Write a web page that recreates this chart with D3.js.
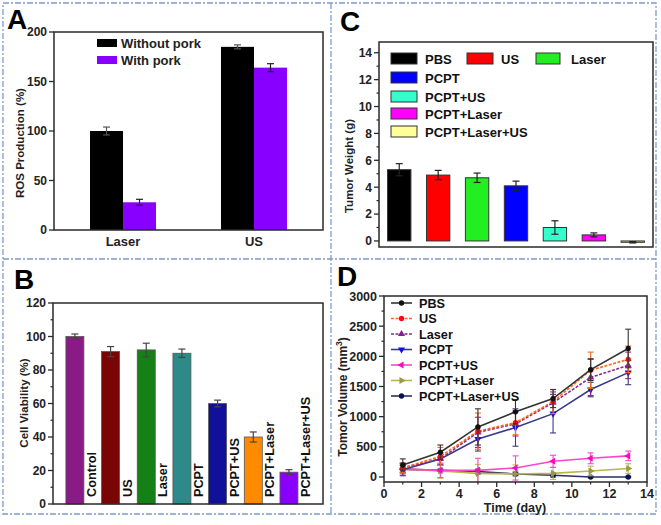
<!DOCTYPE html>
<html><head><meta charset="utf-8">
<script src="https://cdn.jsdelivr.net/npm/d3@7"></script>
<style>
body{margin:0;background:#fff;}
svg{display:block;font-family:"Liberation Sans",Arial,sans-serif;font-weight:bold;}
</style></head>
<body><svg id="c" width="661" height="525"></svg>
<script>
// ---------- Panel A data ----------
const aCategories = ["Laser", "US"];
const aSeries = ["Without pork", "With pork"];
const aWithout = [100, 185];
const aWithoutErr = [4, 2];
const aWith = [28, 164];
const aWithErr = [3, 4];
const aTicks = [0, 50, 100, 150, 200];

// ---------- Panel B data ----------
const bCategories = ["Control", "US", "Laser", "PCPT", "PCPT+US", "PCPT+Laser", "PCPT+Laser+US"];
const bValues = [100, 91, 92, 90, 60, 40, 19];
const bErrors = [1.5, 3, 4, 2.5, 2, 3, 1.5];
const bColors = ["#8a1a86", "#7a0505", "#158015", "#2e8a88", "#10109a", "#ff8a00", "#8a00ff"];
const bTicks = [0, 20, 40, 60, 80, 100, 120];

// ---------- Panel C data ----------
const cCategories = ["PBS", "US", "Laser", "PCPT", "PCPT+US", "PCPT+Laser", "PCPT+Laser+US"];
const cValues = [5.3, 4.9, 4.7, 4.1, 1.0, 0.45, -0.1];
const cErrors = [0.45, 0.35, 0.35, 0.35, 0.5, 0.15, 0.05];
const cColors = ["#000000", "#ff0000", "#22ee22", "#0000ff", "#33ffcc", "#ff00ff", "#ffff99"];
const cTicks = [0, 2, 4, 6, 8, 10, 12, 14];

// ---------- Panel D data ----------
const dDays = [1, 3, 5, 7, 9, 11, 13];
const dSeries = ["PBS", "US", "Laser", "PCPT", "PCPT+US", "PCPT+Laser", "PCPT+Laser+US"];
const dPBS = [200, 410, 830, 1080, 1300, 1780, 2130];
const dPBSErr = [100, 120, 300, 200, 150, 180, 320];
const dUS = [150, 340, 760, 900, 1250, 1770, 1950];
const dUSErr = [80, 150, 300, 200, 200, 300, 220];
const dLaser = [150, 300, 740, 880, 1230, 1650, 1850];
const dLaserErr = [80, 100, 250, 200, 180, 300, 220];
const dPCPT = [120, 300, 630, 820, 1050, 1450, 1730];
const dPCPTErr = [100, 100, 200, 310, 320, 120, 200];
const dPCPTUS = [130, 110, 110, 150, 260, 310, 350];
const dPCPTUSErr = [100, 120, 200, 200, 100, 90, 80];
const dPCPTLaser = [130, 100, 60, 50, 60, 100, 140];
const dPCPTLaserErr = [80, 120, 150, 150, 100, 80, 80];
const dPCPTLaserUS = [130, 110, 90, 50, 30, 0, 0];
const dPCPTLaserUSErr = [60, 20, 40, 30, 30, 10, 10];
const dXTicks = [0, 2, 4, 6, 8, 10, 12, 14];
const dYTicks = [0, 500, 1000, 1500, 2000, 2500, 3000];

const svg = d3.select("#c");
const AX = "#2a2a2a";

// ---------- panel frames ----------
const frame = svg.append("g").attr("fill", "none").attr("stroke", "#7b9bd0")
  .attr("stroke-width", 1.3).attr("stroke-dasharray", "6,2,2,2");
frame.append("rect").attr("x", 3).attr("y", 3).attr("width", 653).attr("height", 511);
frame.append("line").attr("x1", 331).attr("x2", 331).attr("y1", 3).attr("y2", 514);
frame.append("line").attr("x1", 3).attr("x2", 656).attr("y1", 259).attr("y2", 259);

function letter(t, x, y) {
  svg.append("text").attr("x", x).attr("y", y).attr("font-size", 28).attr("fill", "#000").text(t);
}

function box(x0, y0, x1, y1) {
  svg.append("rect").attr("x", x0).attr("y", y0).attr("width", x1 - x0).attr("height", y1 - y0)
    .attr("fill", "none").attr("stroke", AX).attr("stroke-width", 1.5);
}

function yAxis(g, y, ticks, minor, x0, fs) {
  g.append("g").selectAll("line").data(minor).join("line")
    .attr("x1", x0 - 2.5).attr("x2", x0).attr("y1", d => y(d)).attr("y2", d => y(d))
    .attr("stroke", AX).attr("stroke-width", 1.2);
  g.append("g").selectAll("line").data(ticks).join("line")
    .attr("x1", x0 - 5).attr("x2", x0).attr("y1", d => y(d)).attr("y2", d => y(d))
    .attr("stroke", AX).attr("stroke-width", 1.3);
  g.append("g").selectAll("text").data(ticks).join("text")
    .attr("x", x0 - 7).attr("y", d => y(d)).attr("dy", "0.36em")
    .attr("text-anchor", "end").attr("font-size", fs).attr("fill", "#222").text(d => d);
}

function errBar(g, x, yTop, yBot, cap, color, w) {
  g.append("line").attr("x1", x).attr("x2", x).attr("y1", yTop).attr("y2", yBot)
    .attr("stroke", color).attr("stroke-width", w || 1.2);
  g.append("line").attr("x1", x - cap).attr("x2", x + cap).attr("y1", yTop).attr("y2", yTop)
    .attr("stroke", color).attr("stroke-width", w || 1.2);
  g.append("line").attr("x1", x - cap).attr("x2", x + cap).attr("y1", yBot).attr("y2", yBot)
    .attr("stroke", color).attr("stroke-width", w || 1.2);
}

// ================= Panel A =================
(function () {
  const L = 54, R = 323, T = 32, B = 230;
  const g = svg.append("g");
  const x = d3.scaleBand().domain(aCategories).range([L, R]).paddingInner(0.496).paddingOuter(0.275);
  const x1 = d3.scaleBand().domain(aSeries).range([0, x.bandwidth()]);
  const y = d3.scaleLinear().domain([0, 200]).range([B, T]);
  const cols = ["#000000", "#8800ff"];
  const vals = [aWithout, aWith], errs = [aWithoutErr, aWithErr];
  aSeries.forEach((s, si) => {
    aCategories.forEach((c, ci) => {
      const bx = x(c) + x1(s);
      g.append("rect").attr("x", bx).attr("y", y(vals[si][ci])).attr("width", x1.bandwidth())
        .attr("height", y(0) - y(vals[si][ci])).attr("fill", cols[si]);
    });
  });
  aSeries.forEach((s, si) => {
    aCategories.forEach((c, ci) => {
      const cx = x(c) + x1(s) + x1.bandwidth() / 2;
      errBar(g, cx, y(vals[si][ci] + errs[si][ci]), y(vals[si][ci] - errs[si][ci]), 3.5,
        si === 0 ? "#555" : "#222");
    });
  });
  box(L, T, R, B);
  yAxis(g, y, aTicks, [], L, 12);
  g.selectAll(".xl").data(aCategories).join("text")
    .attr("x", d => x(d) + x.bandwidth() / 2).attr("y", 246).attr("text-anchor", "middle")
    .attr("font-size", 13).attr("fill", "#222").text(d => d);
  svg.append("text").attr("transform", "translate(24,143) rotate(-90)").attr("text-anchor", "middle")
    .attr("font-size", 11.5).attr("fill", "#222").text("ROS Production (%)");
  // legend
  aSeries.forEach((s, i) => {
    g.append("rect").attr("x", 97).attr("y", 39 + i * 17).attr("width", 20).attr("height", 8)
      .attr("fill", cols[i]);
    g.append("text").attr("x", 121).attr("y", 47.5 + i * 17).attr("font-size", 13)
      .attr("fill", "#222").text(s);
  });
  letter("A", 7, 29);
})();

// ================= Panel B =================
(function () {
  const L = 53, R = 323, T = 303, B = 504;
  const g = svg.append("g");
  const x = d3.scaleBand().domain(bCategories).range([L, R]).paddingInner(0.496).paddingOuter(0.532).align(0.34);
  const y = d3.scaleLinear().domain([0, 120]).range([B, T]);
  bCategories.forEach((c, i) => {
    g.append("rect").attr("x", x(c)).attr("y", y(bValues[i])).attr("width", x.bandwidth())
      .attr("height", y(0) - y(bValues[i])).attr("fill", bColors[i])
      .attr("stroke", "#555").attr("stroke-width", 0.8);
  });
  bCategories.forEach((c, i) => {
    errBar(g, x(c) + x.bandwidth() / 2, y(bValues[i] + bErrors[i]), y(bValues[i] - bErrors[i]), 3.5, "#444");
    g.append("text").attr("transform", `translate(${x(c) + x.bandwidth() / 2 + 21},497) rotate(-90)`)
      .attr("font-size", 12.7).attr("fill", "#111").text(c);
  });
  box(L, T, R, B);
  yAxis(g, y, bTicks, d3.range(10, 120, 20), L, 12);
  svg.append("text").attr("transform", "translate(28,403) rotate(-90)").attr("text-anchor", "middle")
    .attr("font-size", 11.5).attr("fill", "#222").text("Cell Viability (%)");
  letter("B", 14, 289);
})();

// ================= Panel C =================
(function () {
  const L = 379, R = 653, T = 42, B = 247;
  const g = svg.append("g");
  const x = d3.scaleBand().domain(cCategories).range([L, R]).paddingInner(0.4).paddingOuter(0.22);
  const y = d3.scaleLinear().domain([-0.45, 14.8]).range([B, T]);
  cCategories.forEach((c, i) => {
    const v = cValues[i];
    g.append("rect").attr("x", x(c)).attr("y", Math.min(y(v), y(0))).attr("width", x.bandwidth())
      .attr("height", Math.max(Math.abs(y(0) - y(v)), 1)).attr("fill", cColors[i])
      .attr("stroke", "#333").attr("stroke-width", 1);
  });
  cCategories.forEach((c, i) => {
    errBar(g, x(c) + x.bandwidth() / 2, y(cValues[i] + cErrors[i]), y(cValues[i] - cErrors[i]), 3.5, "#222");
  });
  box(L, T, R, B);
  yAxis(g, y, cTicks, d3.range(1, 15, 2), L, 12);
  svg.append("text").attr("transform", "translate(353,166) rotate(-90)").attr("text-anchor", "middle")
    .attr("font-size", 11.5).attr("fill", "#222").text("Tumor Weight (g)");
  // legend
  const pos = [[391, 53], [467, 53], [536, 53], [391, 72], [391, 91], [391, 108], [391, 126]];
  cCategories.forEach((c, i) => {
    const [lx, ly] = pos[i];
    const sw = i === 2 ? 24 : 26;
    g.append("rect").attr("x", lx).attr("y", ly).attr("width", sw).attr("height", 11)
      .attr("fill", cColors[i]).attr("stroke", "#333").attr("stroke-width", 1);
    g.append("text").attr("x", lx + sw + (i === 2 ? 11 : 8)).attr("y", ly + 10.5).attr("font-size", 13)
      .attr("fill", "#111").text(c);
  });
  letter("C", 340, 31);
})();

// ================= Panel D =================
(function () {
  const L = 384, R = 647, T = 296, B = 482;
  const g = svg.append("g");
  const x = d3.scaleLinear().domain([0, 14]).range([L, R]);
  const y = d3.scaleLinear().domain([-83, 3000]).range([B, T]);
  const series = [
    { name: dSeries[0], v: dPBS, e: dPBSErr, line: "#333333", mk: "#111111", sym: d3.symbolCircle, dash: null },
    { name: dSeries[1], v: dUS, e: dUSErr, line: "#ff6a1a", mk: "#ee1111", sym: d3.symbolCircle, dash: "3,1.5" },
    { name: dSeries[2], v: dLaser, e: dLaserErr, line: "#8a2a8a", mk: "#8a1a9a", sym: d3.symbolTriangle, dash: "3,1.5", rot: 0 },
    { name: dSeries[3], v: dPCPT, e: dPCPTErr, line: "#3a3a8a", mk: "#1010dd", sym: d3.symbolTriangle, dash: null, rot: 180 },
    { name: dSeries[4], v: dPCPTUS, e: dPCPTUSErr, line: "#ff44cc", mk: "#ee11bb", sym: d3.symbolTriangle, dash: null, rot: -90 },
    { name: dSeries[5], v: dPCPTLaser, e: dPCPTLaserErr, line: "#b8b84a", mk: "#999944", sym: d3.symbolTriangle, dash: null, rot: 90 },
    { name: dSeries[6], v: dPCPTLaserUS, e: dPCPTLaserUSErr, line: "#28306a", mk: "#0a1050", sym: d3.symbolCircle, dash: null }
  ];
  const clip = svg.append("clipPath").attr("id", "dclip").append("rect")
    .attr("x", L).attr("y", T).attr("width", R - L).attr("height", B - T);
  const pg = g.append("g").attr("clip-path", "url(#dclip)");
  const line = d3.line().x((d, i) => x(dDays[i])).y(d => y(d));
  // draw in reverse so PBS on top
  series.slice().reverse().forEach(s => {
    s.v.forEach((v, i) => errBar(pg, x(dDays[i]), y(v + s.e[i]), y(v - s.e[i]), 3, s.line, 1.1));
    pg.append("path").attr("d", line(s.v)).attr("fill", "none").attr("stroke", s.line)
      .attr("stroke-width", 1.6).attr("stroke-dasharray", s.dash);
    s.v.forEach((v, i) => {
      pg.append("path").attr("d", d3.symbol(s.sym, 22)())
        .attr("transform", `translate(${x(dDays[i])},${y(v)}) rotate(${s.rot || 0})`)
        .attr("fill", s.mk);
    });
  });
  box(L, T, R, B);
  yAxis(g, y, dYTicks, d3.range(250, 3000, 500), L, 12.5);
  // x axis ticks
  g.append("g").selectAll("line").data(d3.range(1, 14, 2)).join("line")
    .attr("x1", d => x(d)).attr("x2", d => x(d)).attr("y1", B).attr("y2", B + 2.5)
    .attr("stroke", AX).attr("stroke-width", 1.2);
  g.append("g").selectAll("line").data(dXTicks).join("line")
    .attr("x1", d => x(d)).attr("x2", d => x(d)).attr("y1", B).attr("y2", B + 5)
    .attr("stroke", AX).attr("stroke-width", 1.3);
  g.append("g").selectAll("text").data(dXTicks).join("text")
    .attr("x", d => x(d)).attr("y", 497.5).attr("text-anchor", "middle")
    .attr("font-size", 12.5).attr("fill", "#222").text(d => d);
  svg.append("text").attr("x", 515).attr("y", 512).attr("text-anchor", "middle")
    .attr("font-size", 12.5).attr("fill", "#222").text("Time (day)");
  const yt = svg.append("text").attr("transform", "translate(347,397) rotate(-90)").attr("text-anchor", "middle")
    .attr("font-size", 12).attr("fill", "#222");
  yt.append("tspan").text("Tomor Volume (mm");
  yt.append("tspan").attr("font-size", 8.5).attr("dy", -5).text("3");
  yt.append("tspan").attr("dy", 5).text(")");
  // legend
  series.forEach((s, i) => {
    const ly = 303 + i * 15.5;
    g.append("line").attr("x1", 391).attr("x2", 412).attr("y1", ly).attr("y2", ly)
      .attr("stroke", s.line).attr("stroke-width", 1.6).attr("stroke-dasharray", s.dash);
    g.append("path").attr("d", d3.symbol(s.sym, 22)())
      .attr("transform", `translate(401.5,${ly}) rotate(${s.rot || 0})`).attr("fill", s.mk);
    g.append("text").attr("x", 419).attr("y", ly).attr("dy", "0.36em").attr("font-size", 12.7)
      .attr("fill", "#111").text(s.name);
  });
  letter("D", 337, 286);
})();
</script></body></html>
